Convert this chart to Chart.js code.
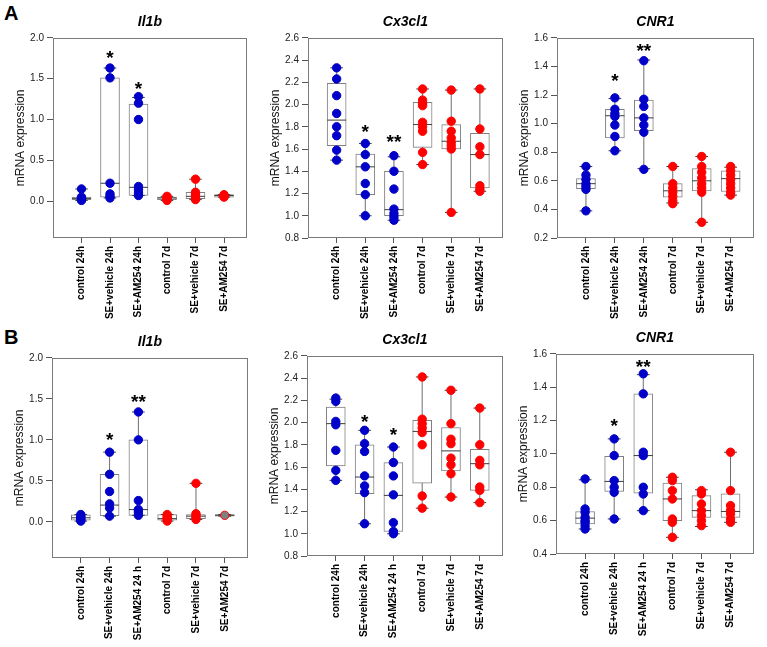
<!DOCTYPE html>
<html>
<head>
<meta charset="utf-8">
<script src="https://cdn.jsdelivr.net/npm/chart.js@4.4.1/dist/chart.umd.min.js"></script>
<style>
  body { margin: 0; background: #fff; }
  #wrap { position: relative; width: 767px; height: 647px; background: #fff; overflow: hidden; font-family: "Liberation Sans", Arial, sans-serif; }
  canvas { position: absolute; }
  .lab { position: absolute; font-weight: bold; font-size: 20px; color: #000; }
</style>
</head>
<body>
<div id="wrap">
  <div class="lab" style="left:4px;top:2px">A</div>
  <div class="lab" style="left:4px;top:326px">B</div>
  <canvas id="a1" width="249" height="323" style="left:3px;top:0px"></canvas>
  <canvas id="a2" width="250" height="323" style="left:258px;top:0px"></canvas>
  <canvas id="a3" width="252" height="323" style="left:507px;top:0px"></canvas>
  <canvas id="b1" width="251" height="323" style="left:2px;top:320px"></canvas>
  <canvas id="b2" width="251" height="323" style="left:257px;top:318px"></canvas>
  <canvas id="b3" width="253" height="323" style="left:506px;top:316px"></canvas>
</div>
<script>
// groups and colours
const groupsA = ["control 24h", "SE+vehicle 24h", "SE+AM254 24h", "control 7d", "SE+vehicle 7d", "SE+AM254 7d"];
const groupsB = ["control 24h", "SE+vehicle 24h", "SE+AM254 24 h", "control 7d", "SE+vehicle 7d", "SE+AM254 7d"];
const groupPos = [1, 2, 3, 4, 5, 6];
const blue = '#0000c8';
const red = '#ff0000';
const groupEdge = [blue, blue, blue, red, red, red];
const groupFill = [blue, blue, blue, red, red, red];
const groupFillB1 = [blue, blue, blue, red, red, '#808080'];

// y tick labels
const ticksIl1b = [0, 0.5, 1.0, 1.5, 2.0];
const ticksCx = [0.8, 1.0, 1.2, 1.4, 1.6, 1.8, 2.0, 2.2, 2.4, 2.6];
const ticksCnrA = [0.2, 0.4, 0.6, 0.8, 1.0, 1.2, 1.4, 1.6];
const ticksCnrB = [0.4, 0.6, 0.8, 1.0, 1.2, 1.4, 1.6];

// A - Il1b
const a1Pts = [
    [0.15, 0.05, 0.04, 0.03, 0.02, 0.01],
    [1.63, 1.51, 0.22, 0.09, 0.06, 0.04],
    [1.28, 1.20, 1.00, 0.18, 0.14, 0.10, 0.07],
    [0.06, 0.05, 0.03, 0.02, 0.01],
    [0.27, 0.11, 0.08, 0.06, 0.03, 0.02],
    [0.08, 0.07, 0.06, 0.05]
];
const a1Q1 = [0.02, 0.05, 0.07, 0.02, 0.03, 0.05];
const a1Med = [0.035, 0.22, 0.17, 0.04, 0.06, 0.07];
const a1Q3 = [0.05, 1.51, 1.19, 0.05, 0.11, 0.08];
const a1Lo = [0.01, 0.04, 0.07, 0.01, 0.02, 0.05];
const a1Hi = [0.15, 1.63, 1.27, 0.06, 0.27, 0.08];
const a1Stars = ['', '*', '*', '', '', ''];
const a1StarY = [0, 1.81, 1.44, 0, 0, 0];

// A - Cx3cl1
const a2Pts = [
    [2.33, 2.23, 2.08, 1.92, 1.80, 1.72, 1.59, 1.50],
    [1.65, 1.55, 1.44, 1.29, 1.19, 1.00],
    [1.54, 1.40, 1.24, 1.06, 1.02, 0.99, 0.96],
    [2.14, 2.04, 2.01, 1.99, 1.84, 1.80, 1.76, 1.57, 1.46],
    [2.13, 1.85, 1.76, 1.70, 1.66, 1.63, 1.60, 1.03],
    [2.14, 1.78, 1.62, 1.55, 1.27, 1.24, 1.22]
];
const a2Q1 = [1.63, 1.19, 1.00, 1.615, 1.60, 1.25];
const a2Med = [1.86, 1.44, 1.055, 1.82, 1.67, 1.55];
const a2Q3 = [2.19, 1.555, 1.40, 2.02, 1.82, 1.74];
const a2Lo = [1.50, 1.00, 0.96, 1.46, 1.03, 1.22];
const a2Hi = [2.33, 1.65, 1.53, 2.14, 2.13, 2.14];
const a2Stars = ['', '*', '**', '', '', ''];
const a2StarY = [0, 1.80, 1.71, 0, 0, 0];

// A - CNR1
const a3Pts = [
    [0.70, 0.64, 0.61, 0.58, 0.56, 0.54, 0.39],
    [1.18, 1.10, 1.07, 1.05, 0.99, 0.91, 0.81],
    [1.44, 1.17, 1.12, 1.04, 0.99, 0.94, 0.68],
    [0.70, 0.58, 0.55, 0.52, 0.49, 0.46, 0.44],
    [0.77, 0.70, 0.66, 0.62, 0.58, 0.55, 0.52, 0.31],
    [0.70, 0.67, 0.64, 0.61, 0.58, 0.55, 0.52, 0.50]
];
const a3Q1 = [0.545, 0.90, 0.95, 0.485, 0.53, 0.525];
const a3Med = [0.58, 1.055, 1.04, 0.53, 0.60, 0.615];
const a3Q3 = [0.615, 1.10, 1.165, 0.58, 0.685, 0.67];
const a3Lo = [0.39, 0.81, 0.685, 0.445, 0.31, 0.50];
const a3Hi = [0.70, 1.175, 1.445, 0.70, 0.77, 0.695];
const a3Stars = ['', '*', '**', '', '', ''];
const a3StarY = [0, 1.335, 1.545, 0, 0, 0];

// B - Il1b
const b1Pts = [
    [0.09, 0.07, 0.05, 0.03, 0.02, 0.01],
    [0.85, 0.58, 0.37, 0.22, 0.17, 0.07],
    [1.34, 1.00, 0.26, 0.15, 0.12, 0.08],
    [0.09, 0.07, 0.05, 0.03, 0.01],
    [0.47, 0.10, 0.08, 0.05, 0.03],
    [0.08]
];
const b1Q1 = [0.02, 0.075, 0.08, 0.02, 0.04, 0.07];
const b1Med = [0.05, 0.205, 0.15, 0.04, 0.07, 0.08];
const b1Q3 = [0.085, 0.58, 1.00, 0.09, 0.09, 0.09];
const b1Lo = [0.01, 0.07, 0.08, 0.01, 0.03, 0.07];
const b1Hi = [0.09, 0.85, 1.34, 0.09, 0.47, 0.09];
const b1Stars = ['', '*', '**', '', '', ''];
const b1StarY = [0, 1.065, 1.52, 0, 0, 0];

// B - Cx3cl1
const b2Pts = [
    [2.22, 2.19, 2.01, 1.98, 1.75, 1.57, 1.48],
    [1.93, 1.81, 1.74, 1.52, 1.43, 1.37, 1.09],
    [1.78, 1.64, 1.52, 1.35, 1.10, 1.02, 1.00],
    [2.41, 2.03, 1.99, 1.95, 1.91, 1.80, 1.34, 1.23],
    [2.29, 1.99, 1.85, 1.81, 1.68, 1.62, 1.54, 1.33],
    [2.13, 1.80, 1.66, 1.62, 1.42, 1.39, 1.28]
];
const b2Q1 = [1.61, 1.36, 1.02, 1.455, 1.565, 1.39];
const b2Med = [1.99, 1.51, 1.345, 1.92, 1.745, 1.63];
const b2Q3 = [2.14, 1.80, 1.64, 2.02, 1.955, 1.76];
const b2Lo = [1.48, 1.09, 1.00, 1.23, 1.33, 1.28];
const b2Hi = [2.21, 1.93, 1.78, 2.41, 2.29, 2.13];
const b2Stars = ['', '*', '*', '', '', ''];
const b2StarY = [0, 2.05, 1.93, 0, 0, 0];

// B - CNR1
const b3Pts = [
    [0.85, 0.67, 0.65, 0.62, 0.60, 0.59, 0.57, 0.55],
    [1.09, 0.99, 0.84, 0.80, 0.77, 0.61],
    [1.48, 1.36, 1.01, 0.99, 0.80, 0.76, 0.66],
    [0.86, 0.84, 0.78, 0.73, 0.61, 0.59, 0.50],
    [0.78, 0.76, 0.70, 0.66, 0.63, 0.60, 0.57],
    [1.01, 0.78, 0.69, 0.66, 0.64, 0.61, 0.59]
];
const b3Q1 = [0.58, 0.775, 0.765, 0.60, 0.62, 0.62];
const b3Med = [0.615, 0.835, 0.99, 0.73, 0.66, 0.655];
const b3Q3 = [0.655, 0.985, 1.36, 0.825, 0.75, 0.76];
const b3Lo = [0.55, 0.61, 0.66, 0.50, 0.565, 0.59];
const b3Hi = [0.845, 1.09, 1.475, 0.86, 0.785, 1.01];
const b3Stars = ['', '*', '**', '', '', ''];
const b3StarY = [0, 1.20, 1.55, 0, 0, 0];

Chart.defaults.font.family = '"Liberation Sans", Arial, sans-serif';

function boxPanel(id, title, groups, pts, q1, med, q3, lo, hi, stars, starY, yMin, yMax, yTicks, fills) {
    const whisk = [], lines = [], boxes = [], dots = [], dotFill = [], dotEdge = [];
    groupPos.forEach((x, i) => {
        boxes.push({x: x, y: [q1[i], q3[i]]});
        whisk.push({x: x, y: lo[i]}, {x: x, y: hi[i]}, {x: x, y: null});
        lines.push({x: x - 0.22, y: lo[i]}, {x: x + 0.22, y: lo[i]}, {x: x, y: null});
        lines.push({x: x - 0.22, y: hi[i]}, {x: x + 0.22, y: hi[i]}, {x: x, y: null});
        lines.push({x: x - 0.33, y: med[i]}, {x: x + 0.33, y: med[i]}, {x: x, y: null});
        pts[i].forEach(v => {
            dots.push({x: x, y: v});
            dotFill.push(fills[i]);
            dotEdge.push(groupEdge[i]);
        });
    });

    // frame round the plot and the significance stars
    const extras = {
        id: 'extras',
        afterDatasetsDraw(chart) {
            const {ctx, chartArea: a, scales} = chart;
            ctx.save();
            ctx.strokeStyle = '#7a7a7a';
            ctx.lineWidth = 1;
            ctx.strokeRect(Math.round(a.left) + 0.5, Math.round(a.top) + 0.5,
                Math.round(a.width) - 1, Math.round(a.height) - 1);
            ctx.fillStyle = '#000';
            ctx.font = 'bold 19px "Liberation Sans", Arial, sans-serif';
            ctx.textAlign = 'center';
            ctx.textBaseline = 'alphabetic';
            stars.forEach((s, i) => {
                if (!s) return;
                ctx.fillText(s, scales.x.getPixelForValue(groupPos[i]), scales.y.getPixelForValue(starY[i]) + 11);
            });
            ctx.restore();
        }
    };

    return new Chart(document.getElementById(id), {
        type: 'bar',
        data: {
            datasets: [
                {type: 'line', data: whisk, borderColor: '#6e6e6e', borderWidth: 1, pointRadius: 0, spanGaps: false, order: 4},
                {type: 'bar', data: boxes, backgroundColor: '#ffffff', borderColor: '#808080', borderWidth: 1,
                    borderSkipped: false, barThickness: 19, order: 3},
                {type: 'line', data: lines, borderColor: '#3c3c3c', borderWidth: 1, pointRadius: 0, spanGaps: false, order: 2},
                {type: 'scatter', data: dots, backgroundColor: dotFill, borderColor: dotEdge, borderWidth: 1,
                    pointRadius: 4.2, order: 1}
            ]
        },
        options: {
            responsive: false,
            animation: false,
            layout: {padding: {left: 0, right: 2, top: 0, bottom: 0}},
            scales: {
                x: {
                    type: 'linear',
                    offset: false,
                    min: 0,
                    max: 6.8,
                    afterBuildTicks: s => { s.ticks = groupPos.map(v => ({value: v})); },
                    afterFit: s => { s.height = 85; },
                    ticks: {
                        callback: (v, i) => groups[i],
                        minRotation: 90,
                        maxRotation: 90,
                        autoSkip: false,
                        font: {size: 10, weight: 'bold'},
                        color: '#000',
                        padding: 3
                    },
                    grid: {offset: false, drawOnChartArea: false, tickLength: 5, color: '#555'},
                    border: {display: false}
                },
                y: {
                    min: yMin,
                    max: yMax,
                    afterBuildTicks: s => { s.ticks = yTicks.map(v => ({value: v})); },
                    afterFit: s => { s.width = 50; },
                    ticks: {
                        callback: v => v.toFixed(1),
                        font: {size: 10},
                        color: '#222',
                        padding: 3
                    },
                    grid: {drawOnChartArea: false, tickLength: 6, color: '#555'},
                    border: {display: false},
                    title: {
                        display: true,
                        text: 'mRNA expression',
                        font: {size: 12},
                        color: '#111',
                        padding: {top: 10, bottom: 0}
                    }
                }
            },
            plugins: {
                legend: {display: false},
                tooltip: {enabled: false},
                title: {
                    display: true,
                    text: title,
                    fullSize: false,
                    color: '#000',
                    font: {size: 14, weight: 'bold', style: 'italic'},
                    padding: {top: 14, bottom: 7}
                }
            }
        },
        plugins: [extras]
    });
}

boxPanel('a1', 'Il1b', groupsA, a1Pts, a1Q1, a1Med, a1Q3, a1Lo, a1Hi, a1Stars, a1StarY, -0.45, 2.0, ticksIl1b, groupFill);
boxPanel('a2', 'Cx3cl1', groupsA, a2Pts, a2Q1, a2Med, a2Q3, a2Lo, a2Hi, a2Stars, a2StarY, 0.8, 2.6, ticksCx, groupFill);
boxPanel('a3', 'CNR1', groupsA, a3Pts, a3Q1, a3Med, a3Q3, a3Lo, a3Hi, a3Stars, a3StarY, 0.2, 1.6, ticksCnrA, groupFill);
boxPanel('b1', 'Il1b', groupsB, b1Pts, b1Q1, b1Med, b1Q3, b1Lo, b1Hi, b1Stars, b1StarY, -0.44, 2.0, ticksIl1b, groupFillB1);
boxPanel('b2', 'Cx3cl1', groupsB, b2Pts, b2Q1, b2Med, b2Q3, b2Lo, b2Hi, b2Stars, b2StarY, 0.8, 2.6, ticksCx, groupFill);
boxPanel('b3', 'CNR1', groupsB, b3Pts, b3Q1, b3Med, b3Q3, b3Lo, b3Hi, b3Stars, b3StarY, 0.4, 1.6, ticksCnrB, groupFill);
</script>
</body>
</html>
